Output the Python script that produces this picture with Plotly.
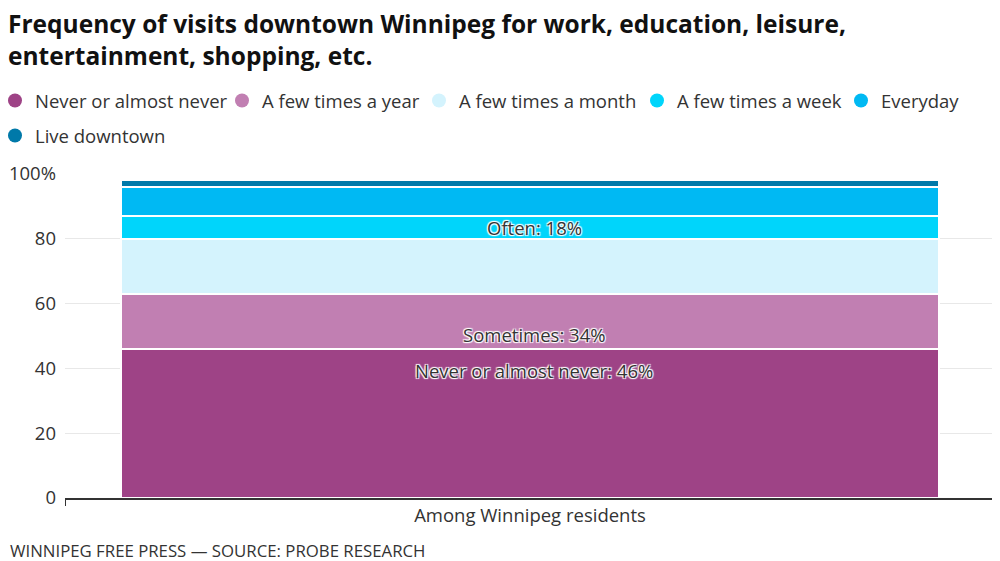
import plotly.graph_objects as go

categories = ["Among Winnipeg residents"]
series_names = ["Never or almost never", "A few times a year", "A few times a month",
                "A few times a week", "Everyday", "Live downtown"]
never = [46]
year = [17]
month = [17]
week = [7]
everyday = [9]
live = [2]
series_values = [never, year, month, week, everyday, live]
colors = ["#9e4386", "#c17fb2", "#d4f3fd", "#00d5fb", "#00b9f3", "#0079a9"]

tick_vals = [0, 20, 40, 60, 80, 100]
tick_text = ["0", "20", "40", "60", "80", "100%"]

labels = ["Often: 18%", "Sometimes: 34%", "Never or almost never: 46%"]
label_y = [83.6, 50.6, 39.4]

FONT = "Open Sans"
FS = 18.5
OFF = 8  # page body margin
W, H = 1000 - OFF, 561 - OFF
ML, MR, MT, MB = 65 - OFF, 5, 174 - OFF, 63
PW, PH = W - ML - MR, H - MT - MB

# legend entry layout (page pixels): text start x, row centre y
legend_text_x = [35, 262, 459, 677, 881, 35]
legend_row_y = [101, 101, 101, 101, 101, 136]

fig = go.Figure()
for name, vals, col in zip(series_names, series_values, colors):
    fig.add_trace(go.Bar(x=categories, y=vals, name=name, marker_color=col,
                         marker_line_color="white", marker_line_width=1.5,
                         showlegend=False, hoverinfo="skip"))

legend_layout = {}
for i, (name, col) in enumerate(zip(series_names, colors)):
    lname = "legend" if i == 0 else f"legend{i + 1}"
    fig.add_trace(go.Scatter(x=[None], y=[None], mode="markers", name=name, legend=lname,
                             marker=dict(symbol="circle", size=14, color=col)))
    box_x = legend_text_x[i] - 40 - OFF  # fig pixels
    legend_layout[lname] = dict(
        orientation="h", xref="paper", yref="container",
        x=(box_x - ML) / PW, xanchor="left",
        y=1 - (legend_row_y[i] - OFF) / H, yanchor="middle",
        itemwidth=30, font=dict(family=FONT, size=FS, color="#333333"),
        bgcolor="rgba(0,0,0,0)")

halo = "1px 1px 1px white, -1px -1px 1px white, 1px -1px 1px white, -1px 1px 1px white"
for txt, yv in zip(labels, label_y):
    fig.add_annotation(x=categories[0], y=yv, text=txt, showarrow=False, xshift=4,
                       font=dict(family=FONT, size=FS, color="#333333", shadow=halo))

fig.update_layout(
    width=W, height=H,
    barmode="stack", bargap=0.12,
    plot_bgcolor="white", paper_bgcolor="white",
    margin=dict(l=ML, r=MR, t=MT, b=MB, autoexpand=False),
    font=dict(family=FONT, color="#333333"),
    title=dict(text="<b>Frequency of visits downtown Winnipeg for work, education, leisure,<br>entertainment, shopping, etc.</b>",
               xref="container", yref="container",
               x=0, xanchor="left", y=1 - 25 / H, yanchor="top",
               font=dict(family=FONT, size=24.5, color="#111111")),
    xaxis=dict(showline=True, linecolor="#333333", linewidth=1.5,
               ticks="outside", tickson="boundaries", ticklen=6, tickcolor="#333333",
               tickfont=dict(family=FONT, size=FS, color="#333333"), showgrid=False),
    yaxis=dict(range=[0, 100], tickvals=tick_vals, ticktext=tick_text,
               gridcolor="#e8e8e8", showline=False, zeroline=False,
               ticklabelstandoff=8,
               tickfont=dict(family=FONT, size=FS, color="#333333")),
    **legend_layout,
)
fig.add_annotation(text="WINNIPEG FREE PRESS — SOURCE: PROBE RESEARCH", xref="paper", yref="paper",
                   x=(8 - OFF - ML) / PW, xanchor="left", y=(MT + PH - (550 - OFF)) / PH,
                   yanchor="middle", showarrow=False,
                   font=dict(family=FONT, size=16.8, color="#333333"))
fig.write_html("out.html")
